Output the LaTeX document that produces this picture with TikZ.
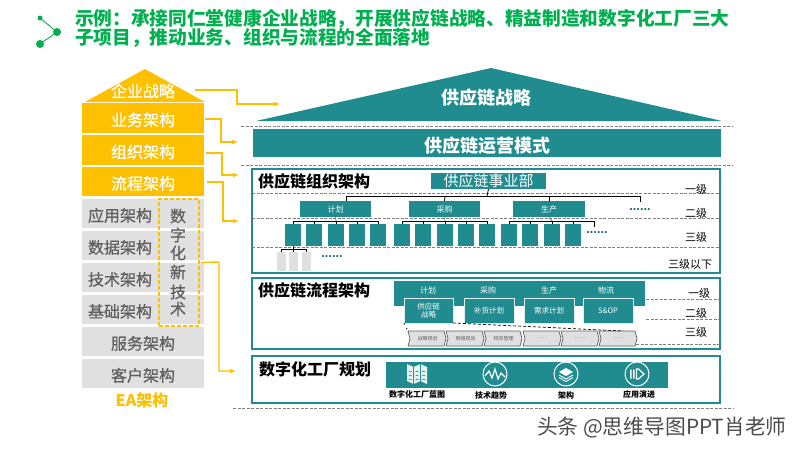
\documentclass[tikz,border=0pt]{standalone}
\usepackage{fontspec}
\setmainfont{Noto Sans CJK SC}
\newfontfamily\medf[FakeBold=0.6]{Noto Sans CJK SC}
\definecolor{teal1}{HTML}{218C8F}
\definecolor{gold1}{HTML}{FFC000}
\definecolor{gray1}{HTML}{E0E0E0}
\definecolor{gtxt}{HTML}{5F5F5F}
\definecolor{green1}{HTML}{00B050}
\definecolor{dash1}{HTML}{808080}
\newcommand\bx[7]{\pgfmathsetmacro\ww{#4-#2}\pgfmathsetmacro\hh{#5-#3}\node[#6,minimum width=\ww pt,minimum height=\hh pt] (#1) at ({(#2+#4)/2},{(#3+#5)/2}) {#7};}
\newcommand\fs[1]{\fontsize{#1}{#1}\selectfont}
\usetikzlibrary{arrows.meta}
\tikzset{
 every node/.style={inner sep=0,outer sep=0},
 goldbox/.style={fill=gold1,text=white,font=\fs{16}\medf,text height=16pt,text depth=0pt},
 graybox/.style={fill=gray1,text=gtxt,font=\fs{16}\medf,text height=16pt,text depth=0pt},
 tealbox/.style={fill=teal1,text=white},
 frame/.style={draw=teal1,line width=2pt},
 goldline/.style={draw=gold1,line width=1.4pt,-{Latex[length=6pt,width=5pt]}},
 dashrule/.style={draw=dash1,line width=.7pt,dash pattern=on 3pt off 1.5pt},
 tree/.style={draw=black,line width=.8pt},
 small/.style={font=\fs{8},text=white},
 lvl/.style={font=\fs{11},text=black},
 heading/.style={font=\fs{16}\bfseries,text=black},
 iconlabel/.style={font=\fs{8}\bfseries,text=black},
 chev/.style={draw=gtxt,fill=gray1,line width=.7pt},
 more/.style={font=\fs{10}\bfseries,text=teal1!70!black},
}
\begin{document}
\begin{tikzpicture}[x=1pt,y=-1pt]
\useasboundingbox (0,0) rectangle (800,450);
\fill[white] (0,0) rectangle (800,450);
% header icon
\coordinate (ic1) at (40,18);\coordinate (ic2) at (57,32);\coordinate (ic3) at (40,44);
\draw[green1,line width=.9pt] (ic1)--(ic2)--(ic3);
\fill[green1] (ic1) circle (2.5) (ic2) circle (4) (ic3) circle (4);
\node[anchor=west,text=green1,font=\fs{18.7}\bfseries] (t1) at (75,18.5) {示例：承接同仁堂健康企业战略，开展供应链战略、精益制造和数字化工厂三大};
\node[anchor=west,text=green1,font=\fs{18.7}\bfseries] (t2) at (75,38) {子项目，推动业务、组织与流程的全面落地};
% EA stack
\fill[gold1] (85,102)--(145,69)--(205,102)--cycle;
\node[text=white,font=\fs{16}\medf] (ea0) at (143,91) {企业战略};
\bx{ea1}{82}{103}{204}{133}{goldbox}{业务架构}
\bx{ea2}{82}{135}{204}{165}{goldbox}{组织架构}
\bx{ea3}{82}{167}{204}{196}{goldbox}{流程架构}
\bx{g1}{82}{199}{204}{228}{graybox}{\hspace*{-46pt}应用架构}
\bx{g2}{82}{231}{204}{260}{graybox}{\hspace*{-46pt}数据架构}
\bx{g3}{82}{263}{204}{292}{graybox}{\hspace*{-46pt}技术架构}
\bx{g4}{82}{295}{204}{324}{graybox}{\hspace*{-46pt}基础架构}
\bx{g5}{82}{327}{204}{356}{graybox}{服务架构}
\bx{g6}{82}{359}{204}{388}{graybox}{客户架构}
\node[text=gold1,font=\fs{16}\bfseries] (ea) at (142,400) {EA架构};
\bx{dx}{159}{199}{199}{326}{draw=gold1,line width=1.4pt,dash pattern=on 4pt off 2pt}{}
\foreach \n/\c/\yy in {a/数/216,b/字/235,c/化/253,d/新/272,e/技/292,f/术/309}
  \node[text=gtxt,font=\fs{16}\medf] (dx\n) at (178,\yy) {\c};
% rules
\coordinate (r1a) at (241,126);\coordinate (r1b) at (733,126);
\coordinate (r2a) at (241,165.5);\coordinate (r2b) at (733,165.5);
\coordinate (r3a) at (233,408);\coordinate (r3b) at (733,408);
\draw[dashrule] (r1a)--(r1b);\draw[dashrule] (r2a)--(r2b);\draw[dashrule] (r3a)--(r3b);
% strategy
\fill[teal1] (256,121)--(491,68)--(722,121)--cycle;
\node[text=white,font=\fs{18}\bfseries] (s1) at (486,98) {供应链战略};
\bx{s2}{253}{129}{721}{157}{tealbox,font=\fs{18}\bfseries,text height=18pt,text depth=0pt}{供应链运营模式}
% arrow targets
\coordinate (e0) at (280,104);\coordinate (e1) at (238,142);\coordinate (e2) at (239,175);\coordinate (e3) at (239,221);\coordinate (e4) at (236,371);
\draw[goldline] (195,90) -- (237,90) -- (237,104) -- (e0);
\draw[goldline] (205,119) -- (221,119) -- (221,142) -- (e1);
\draw[goldline] (206,153) -- (222,153) -- (222,175) -- (e2);
\draw[goldline] (207,182) -- (223,182) -- (223,221) -- (e3);
\draw[goldline] (dx.east)++(2,0) -- (219,262) -- (219,371) -- (e4);
% frames
\bx{f1}{252}{169}{720}{273}{frame}{}
\bx{f2}{252}{278}{720}{349}{frame}{}
\bx{f3}{252}{356}{720}{403}{frame}{}
\node[heading,anchor=west] (h1) at (258,181.5) {供应链组织架构};
\node[heading,anchor=west] (h2) at (258,290.5) {供应链流程架构};
\node[heading,anchor=west] (h3) at (259,369) {数字化工厂规划};
% org
\foreach \yy in {193,218,247} {\draw[dashrule] (252,\yy)--(720,\yy);}
\bx{top}{431}{173}{546}{189}{tealbox,font=\fs{15}}{供应链事业部}
\bx{o1}{300}{201}{371}{217}{tealbox,small}{计划}
\bx{o2}{409}{201}{480}{217}{tealbox,small}{采购}
\bx{o3}{513}{201}{585}{217}{tealbox,small}{生产}
\coordinate (o4) at (640,202);
\node[more] (m1) at (640,209.5) {......};
\draw[tree] (top.south) -- (487,196);
\draw[tree] (346,201)--(346,196)--(640,196)--(o4);
\draw[tree] (445,196)--(o2.north);
\draw[tree] (549,196)--(o3.north);
\foreach \n/\x in {a/285,b/306,c/328,d/349,e/370,f/394,g/415,h/437,i/458,j/479,k/501,l/522,m/544,n/565} {
  \pgfmathsetmacro\xr{\x+16}
  \bx{p\n}{\x}{224}{\xr}{246}{tealbox}{}
}
\draw[tree] (pa.north)--(293,221)--(378,221)--(pe.north);
\draw[tree] (pb.north)--(314,221) (pd.north)--(357,221) (pc.north)--(336,221);
\draw[tree] (pf.north)--(402,221)--(487,221)--(pj.north);
\draw[tree] (pg.north)--(423,221) (ph.north)--(445,221) (pi.north)--(466,221);
\draw[tree] (pk.north)--(509,221)--(594,221)--(594,227);
\draw[tree] (pl.north)--(530,221) (pm.north)--(552,221) (pn.north)--(573,221);
\draw[dash1,line width=.8pt] (o1.south)--(336,221) (o2.south)--(445,221) (o3.south)--(552,221);
\node[more] (m2) at (597,232.5) {......};
\bx{q1}{277}{252}{286}{271}{fill=gray1}{}
\bx{q2}{289}{252}{298}{271}{fill=gray1}{}
\bx{q3}{302}{252}{311}{271}{fill=gray1}{}
\draw[tree] (pa.south)--(293,249);
\draw[tree] (q1.north)--(281.5,249)--(306.5,249)--(q3.north);
\draw[tree] (q2.north)--(293.5,249);
\node[more] (m3) at (332,256.5) {......};
\node[lvl] (l1) at (696,189) {一级};
\node[lvl] (l2) at (696,213) {二级};
\node[lvl] (l3) at (696,237) {三级};
\node[lvl] (l4) at (690,264) {三级以下};
% process
\bx{band}{394}{281}{645}{306}{tealbox}{}
\foreach \n/\c/\x in {a/计划/428,b/采购/488,c/生产/549,d/物流/606}
  \node[small] (b\n) at (\x,290) {\c};
\tikzset{pbox/.style={tealbox,draw=white!85!teal1,line width=.8pt,font=\fs{7.5},align=center}}
\bx{v1}{404}{298}{453}{323}{pbox}{供应链\\[1pt]战略}
\bx{v2}{464}{298}{514}{323}{pbox}{补货计划}
\bx{v3}{524}{298}{574}{323}{pbox}{需求计划}
\bx{v4}{583}{298}{633}{323}{pbox}{S\&OP}
\foreach \n/\x/\c in {a/408/战略规划,b/446/网络规划,c/484/物效管理,d/523/……,e/561/……,f/599/……} {
  \pgfmathsetmacro\xe{\x+38}\pgfmathsetmacro\xi{\x+2}\pgfmathsetmacro\xm{\x+19.5}\pgfmathsetmacro\xf{\x+36}
  \draw[chev] (\x,331)--(\xf,331)--(\xe,338.5)--(\xf,346)--(\x,346)--(\xi,338.5)--cycle;
  \node[font=\fs{5},text=gtxt] (c\n) at (\xm,338.5) {\c};
}
\coordinate (d1) at (623,331);\coordinate (d2) at (408,331);
\draw[black,line width=.7pt,dash pattern=on 3pt off 2pt] (v1.south east)--(d1);
\draw[black,line width=.7pt,dash pattern=on 1.5pt off 4pt] (v1.south west)--(d2);
\foreach \y/\xx in {299/646,319/646,344/636} {\draw[dashrule] (\xx,\y)--(720,\y);}
\node[lvl] (l5) at (699,293) {一级};
\node[lvl] (l6) at (696,313) {二级};
\node[lvl] (l7) at (696,332) {三级};
% factory
\bx{fb}{386}{362}{668}{388}{tealbox}{}
\node[iconlabel] (i1) at (417,394) {数字化工厂蓝图};
\node[iconlabel] (i2) at (491,395) {技术趋势};
\node[iconlabel] (i3) at (566,395) {架构};
\node[iconlabel] (i4) at (639,394) {应用演进};
% map icon
\begin{scope}[shift={(417,374)}]
 \fill[white!90!teal1] (-10,-10)--(-3.5,-7)--(3.5,-10)--(10,-7)--(10,10)--(3.5,7)--(-3.5,10)--(-10,7)--cycle;
 \draw[teal1,line width=.7pt] (-3.5,-7)--(-3.5,10) (3.5,-10)--(3.5,7);
 \foreach \xa in {-6.7,0,6.7} \foreach \ya in {-3,1,5}
   \draw[teal1,line width=.6pt] (\xa-1.5,\ya+1)--(\xa,\ya)--(\xa+1.5,\ya+1);
\end{scope}
\begin{scope}[shift={(495,374)}]
 \draw[white,line width=1pt] (0,0) circle (12);
 \draw[white,line width=1.2pt] (-10,2)--(-6,-3)--(-3,4)--(0,-5)--(3,5)--(6,-1)--(10,3);
\end{scope}
\begin{scope}[shift={(566,374)}]
 \draw[white,line width=1pt] (0,0) circle (12);
 \fill[white] (-7,-2)--(0,-6)--(7,-2)--(0,2)--cycle;
 \draw[white,line width=.9pt] (-7,1)--(0,5)--(7,1) (-7,3.5)--(0,7.5)--(7,3.5);
\end{scope}
\begin{scope}[shift={(637,374)}]
 \draw[white,line width=1pt] (0,0) circle (12);
 \fill[white] (-7,-4.5) rectangle (-5.5,4.5) (-4,-4.5) rectangle (-2.5,4.5);
 \draw[white,line width=1.2pt] (-.5,-5)--(1.5,-5)--(7,0)--(1.5,5)--(-.5,5)--cycle;
\end{scope}
\node[font=\fs{20.8},text=black!70,anchor=west] (wm) at (537,428) {头条 @思维导图PPT肖老师};
\end{tikzpicture}
\end{document}
